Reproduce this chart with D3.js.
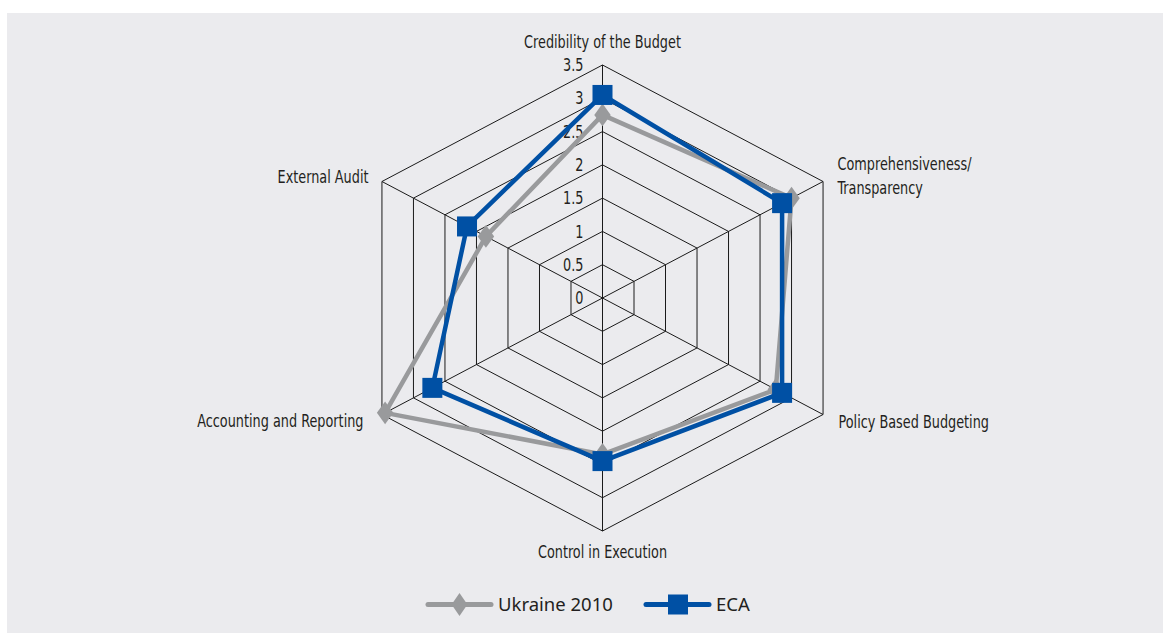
<!DOCTYPE html>
<html>
<head>
<meta charset="utf-8">
<script src="https://cdn.jsdelivr.net/npm/d3@7"></script>
<style>
  html, body { margin: 0; padding: 0; background: #ffffff; }
  svg { display: block; }
</style>
</head>
<body>
<svg id="chart" width="1165" height="633"></svg>
<script>
// PEFA dimension scores, radar view
const categories = [
  "Credibility of the Budget",
  "Comprehensiveness/\nTransparency",
  "Policy Based Budgeting",
  "Control in Execution",
  "Accounting and Reporting",
  "External Audit"
];
const ukraine2010 = [2.75, 3.0, 2.75, 2.35, 3.45, 1.85];
const eca = [3.05, 2.85, 2.85, 2.45, 2.7, 2.15];
const tickValues = [0, 0.5, 1, 1.5, 2, 2.5, 3, 3.5];
const seriesNames = ["Ukraine 2010", "ECA"];

const svg = d3.select("#chart");
const W = 1165, H = 633;

// panel background
svg.append("rect").attr("x", 7).attr("y", 13).attr("width", W - 7 - 2).attr("height", H - 13)
  .attr("fill", "#ebebee");

const cx = 602.5, cy = 298;
const rMax = 233;
const xStretch = 1.093; // plot area is wider than tall
const r = d3.scaleLinear().domain([0, 3.5]).range([0, rMax]);
const angle = d3.scaleLinear().domain([0, categories.length]).range([0, 2 * Math.PI]);

function pt(i, v) {
  const a = angle(i);
  return [cx + xStretch * r(v) * Math.sin(a), cy - r(v) * Math.cos(a)];
}

// condensed look for axis text
const labelFont = "'DejaVu Sans Condensed', 'Liberation Sans Narrow', sans-serif";
const narrow = 0.84;

// grid rings
const g = svg.append("g");
const ringLine = d3.line();
tickValues.filter(t => t > 0).forEach(t => {
  const pts = categories.map((c, i) => pt(i, t));
  pts.push(pts[0]);
  g.append("path").attr("d", ringLine(pts))
    .attr("fill", "none").attr("stroke", "#1a1a1a").attr("stroke-width", 1);
});
// spokes
categories.forEach((c, i) => {
  const p0 = pt(i, 0), p1 = pt(i, 3.5);
  g.append("line").attr("x1", p0[0]).attr("y1", p0[1]).attr("x2", p1[0]).attr("y2", p1[1])
    .attr("stroke", "#1a1a1a").attr("stroke-width", 1);
});

// tick labels along the top spoke
g.selectAll("text.tick").data(tickValues).join("text")
  .attr("class", "tick")
  .attr("transform", d => `translate(${cx - 19},${cy - r(d)}) scale(${narrow},1)`)
  .attr("dy", "0.36em")
  .attr("text-anchor", "end")
  .attr("font-family", labelFont)
  .attr("font-size", 17)
  .attr("fill", "#231f20")
  .text(d => d);

// category labels
const labelPos = [
  { anchor: "middle", dx: 0, dy: -250 },
  { anchor: "start", dx: 235, dy: -128 },
  { anchor: "start", dx: 236, dy: 130 },
  { anchor: "middle", dx: 0, dy: 260 },
  { anchor: "end", dx: -239, dy: 129 },
  { anchor: "end", dx: -234, dy: -115 }
];
categories.forEach((c, i) => {
  const lp = labelPos[i];
  const t = svg.append("text")
    .attr("transform", `translate(${cx + lp.dx},${cy + lp.dy}) scale(${narrow},1)`)
    .attr("text-anchor", lp.anchor)
    .attr("font-family", labelFont)
    .attr("font-size", 17)
    .attr("fill", "#231f20");
  c.split("\n").forEach((line, k) => {
    t.append("tspan").attr("x", 0).attr("dy", k === 0 ? 0 : 24).text(line);
  });
});

// series
const colors = ["#999a9c", "#0050a4"];
const lineGen = d3.line().curve(d3.curveLinearClosed);
const diamond = d3.symbol().type(d3.symbolDiamond).size(150);

[ukraine2010, eca].forEach((vals, s) => {
  const pts = vals.map((v, i) => pt(i, v));
  svg.append("path").attr("d", lineGen(pts))
    .attr("fill", "none").attr("stroke", colors[s]).attr("stroke-width", 4.5)
    .attr("stroke-linejoin", "round");
  if (s === 0) {
    svg.selectAll("path.mk0").data(pts).join("path").attr("class", "mk0")
      .attr("d", diamond)
      .attr("transform", d => `translate(${d[0]},${d[1]}) scale(1.25,1)`)
      .attr("fill", colors[s]);
  } else {
    svg.selectAll("rect.mk1").data(pts).join("rect").attr("class", "mk1")
      .attr("x", d => d[0] - 10).attr("y", d => d[1] - 10)
      .attr("width", 20).attr("height", 20)
      .attr("fill", colors[s]);
  }
});

// legend
const legendFont = "'Noto Sans', 'Open Sans', sans-serif";
const leg = svg.append("g");
const items = [{ x: 428, name: seriesNames[0] }, { x: 646, name: seriesNames[1] }];
items.forEach((it, s) => {
  const y = 604.5;
  leg.append("line").attr("x1", it.x).attr("x2", it.x + 63).attr("y1", y).attr("y2", y)
    .attr("stroke", colors[s]).attr("stroke-width", 5).attr("stroke-linecap", "round");
  if (s === 0) {
    leg.append("path").attr("d", diamond)
      .attr("transform", `translate(${it.x + 31.5},${y}) scale(1.2,1)`)
      .attr("fill", colors[s]);
  } else {
    leg.append("rect").attr("x", it.x + 22).attr("y", y - 10).attr("width", 20).attr("height", 20)
      .attr("fill", colors[s]);
  }
  leg.append("text").attr("x", it.x + 70).attr("y", y).attr("dy", "0.36em")
    .attr("font-family", legendFont).attr("font-size", 18.5).attr("fill", "#231f20")
    .text(it.name);
});
</script>
</body>
</html>
